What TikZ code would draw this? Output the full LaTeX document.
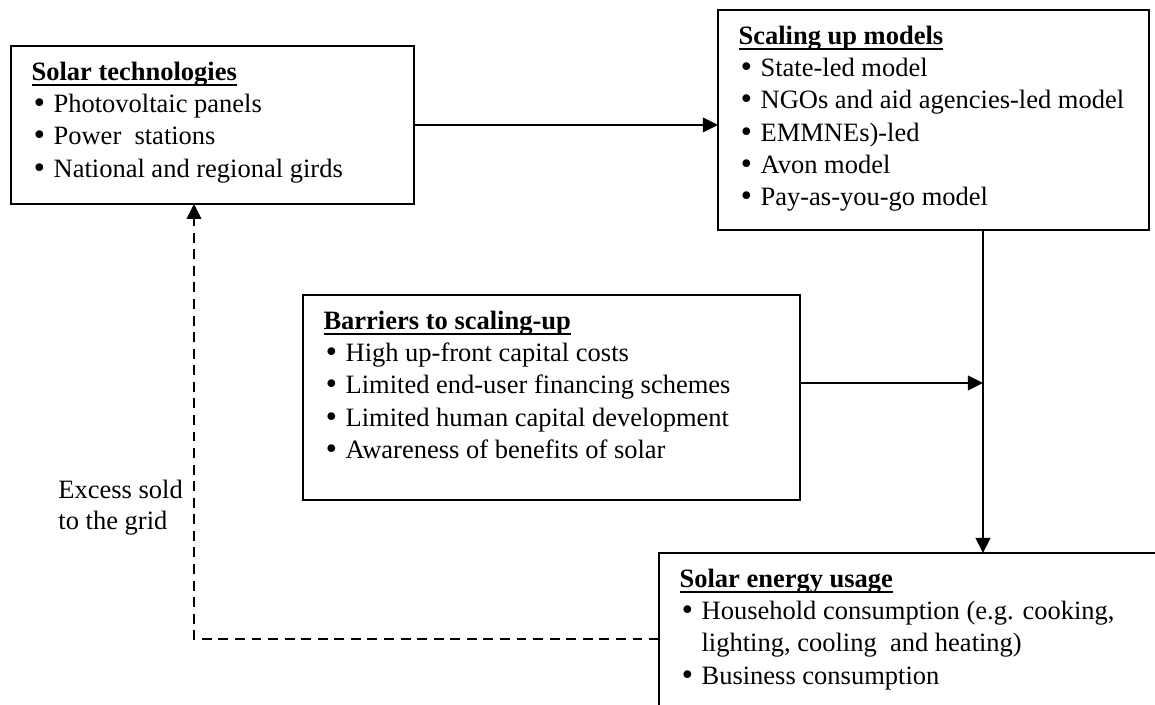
\documentclass[tikz,border=0pt]{standalone}
\usepackage{fontspec}
\setmainfont{Liberation Serif}
\newfontfamily\bulfont{DejaVu Sans}
\usetikzlibrary{arrows.meta}
\newcommand{\bul}{\makebox[10pt][l]{{\bulfont •}}}
\newcommand{\head}[1]{\setbox0=\hbox{\textbf{#1}}\rlap{\raisebox{-2.4pt}{\rule{\wd0}{0.8pt}}}\box0}
\newcommand{\boxcontent}[3]{%
  \parbox[c][#2][t]{#1}{\fontsize{12}{14.6}\selectfont\raggedright\leftskip=9.3pt\rule{0pt}{15.6pt}#3}}
\tikzset{
  panel/.style={draw, line width=0.75pt, inner sep=0pt, outer sep=0pt, anchor=north west},
  conn/.style={line width=0.9pt, -{Triangle[length=6.8pt,width=6.6pt]}},
  dconn/.style={conn, dash pattern=on 4.5pt off 3pt},
  lbl/.style={anchor=north west, align=left, inner sep=0pt, font=\fontsize{12}{14}\selectfont}
}
\begin{document}
\begin{tikzpicture}[x=0.4528pt, y=-0.4528pt]
\useasboundingbox (0,0) rectangle (1155,705);
\clip (0,0) rectangle (1155,705);

\node[panel, minimum width=182.5pt, minimum height=71.5pt] (b1) at (11,46)
  {\boxcontent{182.5pt}{71.5pt}{\head{Solar technologies}\\
   \bul Photovoltaic panels\\
   \bul Power\ \ stations\\
   \bul National and regional girds}};

\node[panel, minimum width=195.2pt, minimum height=99.6pt] (b2) at (718,10)
  {\boxcontent{195.2pt}{99.6pt}{\head{Scaling up models}\\
   \bul State-led model\\
   \bul NGOs and aid agencies-led model\\
   \bul EMMNEs)-led\\
   \bul Avon model\\
   \bul Pay-as-you-go model}};

\node[panel, minimum width=225pt, minimum height=92.8pt] (b3) at (303,295)
  {\boxcontent{225pt}{92.8pt}{\head{Barriers to scaling-up}\\
   \bul High up-front capital costs\\
   \bul Limited end-user financing schemes\\
   \bul Limited human capital development\\
   \bul Awareness of benefits of solar}};

\node[panel, minimum width=245pt, minimum height=93.7pt] (b4) at (659,553)
  {\boxcontent{245pt}{93.7pt}{\head{Solar energy usage}\\
   \bul Household consumption (e.g. cooking,\\
   \hspace*{10pt}lighting, cooling\ \ and heating)\\
   \bul Business consumption}};

\node[lbl] (note) at (58,480) {Excess sold\\to the grid};

\coordinate (j) at (983,383);
\coordinate (c) at (194,639);

\draw[conn] (b1.east) -- (b1.east -| b2.west);
\draw[conn] (b2.south -| j) -- (b4.north -| j);
\draw[conn] (b3.east |- j) -- (j);
\draw[dconn] (b4.west |- c) -- (c) -- (c |- b1.south);
\end{tikzpicture}
\end{document}
